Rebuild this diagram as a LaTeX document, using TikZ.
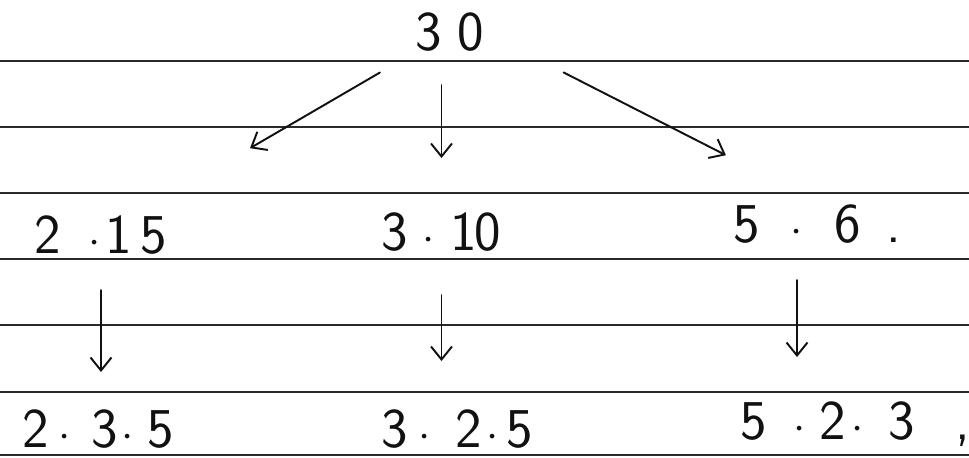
\documentclass[tikz,border=0pt]{standalone}
\usepackage{tikz}
\usetikzlibrary{arrows.meta,positioning}
\definecolor{pen}{HTML}{111111}
\definecolor{ruleink}{HTML}{2A2A2A}
\newcommand{\pdot}{$\cdot$}

\begin{document}
\begin{tikzpicture}[
    x=0.02cm,y=-0.02cm,
    num/.style={font=\sffamily\fontsize{32}{36}\selectfont,inner sep=0pt,text=pen},
    ruled/.style={draw=ruleink,line width=0.9pt},
    arrow/.style={-{Straight Barb[length=2.6mm,width=4.2mm]},line width=1.1pt,color=pen,line cap=round}
  ]
    \useasboundingbox (0,0) rectangle (969,457);
    \fill[white] (0,0) rectangle (969,457);
    % ruled paper
    \foreach \y in {61,127,193,259,325,392,455}
      \draw[ruled] (0,\y) -- (969,\y);
    \node[num] (n30) at (449.5,32) {3\hspace{0.32cm}0};
    \node[num] (f215) at (101,235) {2\hspace{0.55cm}\pdot\hspace{0.1cm}1\hspace{0.17cm}5};
    \node[num] (f310) at (441.5,232) {3\hspace{0.29cm}\pdot\hspace{0.32cm}1\hspace{-0.05cm}0};
    \node[num] (f56) at (797,224) {5\hspace{0.62cm}\pdot\hspace{0.62cm}6};
    \node[num,anchor=base west] (p56) at ([xshift=0.5cm]f56.base east) {.};
    \node[num] (g235) at (98.5,429) {2\hspace{0.19cm}\pdot\hspace{0.42cm}3\hspace{0.06cm}\pdot\hspace{0.29cm}5};
    \node[num] (g325) at (457,429) {3\hspace{0.22cm}\pdot\hspace{0.49cm}2\hspace{0.09cm}\pdot\hspace{0.16cm}5};
    \node[num] (g523) at (828,421) {5\hspace{0.53cm}\pdot\hspace{0.27cm}2\hspace{0.11cm}\pdot\hspace{0.51cm}3};
    \node[num,anchor=base west] (c523) at ([xshift=0.8cm]g523.base east) {,};
    \draw[arrow,shorten <=1.61cm,shorten >=3.45cm] (n30.center) -- (f215.center);
    \draw[arrow,shorten <=1.06cm,shorten >=1.48cm] (f310 |- n30) -- (f310.center);
    \draw[arrow,shorten <=1.78cm,shorten >=3.03cm] (n30.east) -- (f56.east);
    \draw[arrow,shorten <=1.1cm,shorten >=1.14cm] (f215.center) -- (f215 |- g235);
    \draw[arrow,shorten <=1.26cm,shorten >=1.36cm] (f310.center) -- (f310 |- g325);
    \draw[arrow,shorten <=1.12cm,shorten >=1.28cm] (f56.center) -- (f56 |- g523);
  \end{tikzpicture}
\end{document}
